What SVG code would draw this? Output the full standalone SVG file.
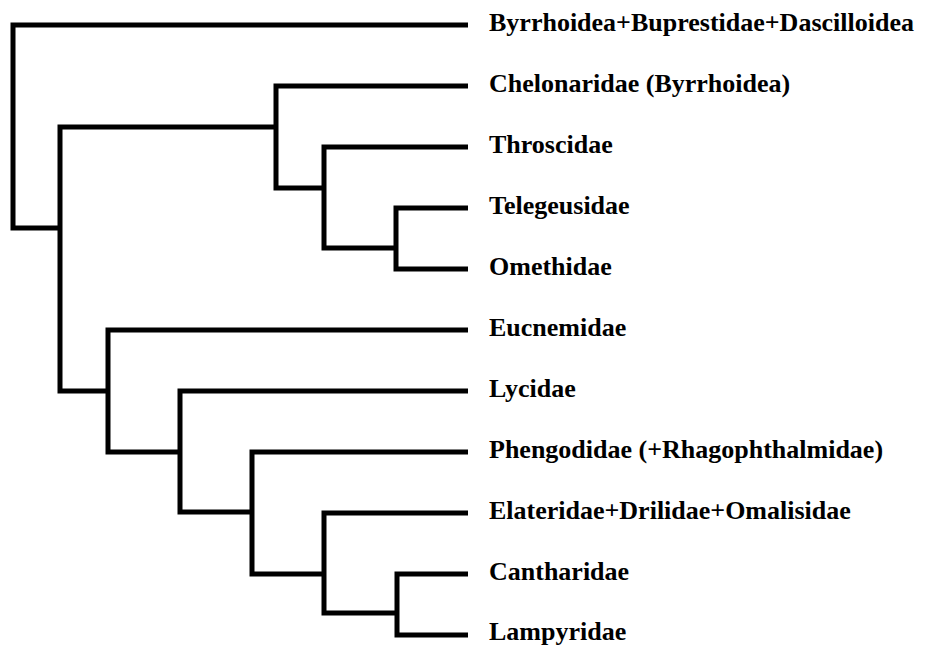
<svg xmlns="http://www.w3.org/2000/svg" width="928" height="647" viewBox="0 0 928 647">
<style>
.e{fill:none;stroke:#000;stroke-width:5;stroke-linejoin:miter;stroke-linecap:butt}
.t{font-family:"Liberation Serif","Times New Roman",serif;font-weight:bold;font-size:26px;fill:#000}
</style>
<rect width="928" height="647" fill="#fff"/>
<g id="connectors">
<path class="e" d="M468,25 H13 V228 H60"/>
<path class="e" d="M276,127 H60 V391 H108"/>
<path class="e" d="M468,86 H276 V188 H324"/>
<path class="e" d="M468,147 H324 V248 H396"/>
<path class="e" d="M468,208 H396 V269 H468"/>
<path class="e" d="M468,330 H108 V452 H180"/>
<path class="e" d="M468,391 H180 V512 H252"/>
<path class="e" d="M468,452 H252 V574 H324"/>
<path class="e" d="M468,513 H324 V613 H397"/>
<path class="e" d="M468,574 H397 V635 H468"/>
</g>
<g id="leaf1"><text class="t" x="489" y="31">Byrrhoidea+Buprestidae+Dascilloidea</text></g>
<g id="leaf2"><text class="t" x="489" y="92">Chelonaridae (Byrrhoidea)</text></g>
<g id="leaf3"><text class="t" x="489" y="153">Throscidae</text></g>
<g id="leaf4"><text class="t" x="489" y="214">Telegeusidae</text></g>
<g id="leaf5"><text class="t" x="489" y="275">Omethidae</text></g>
<g id="leaf6"><text class="t" x="489" y="336">Eucnemidae</text></g>
<g id="leaf7"><text class="t" x="489" y="397">Lycidae</text></g>
<g id="leaf8"><text class="t" x="489" y="458">Phengodidae (+Rhagophthalmidae)</text></g>
<g id="leaf9"><text class="t" x="489" y="519">Elateridae+Drilidae+Omalisidae</text></g>
<g id="leaf10"><text class="t" x="489" y="580">Cantharidae</text></g>
<g id="leaf11"><text class="t" x="489" y="640">Lampyridae</text></g>
</svg>
